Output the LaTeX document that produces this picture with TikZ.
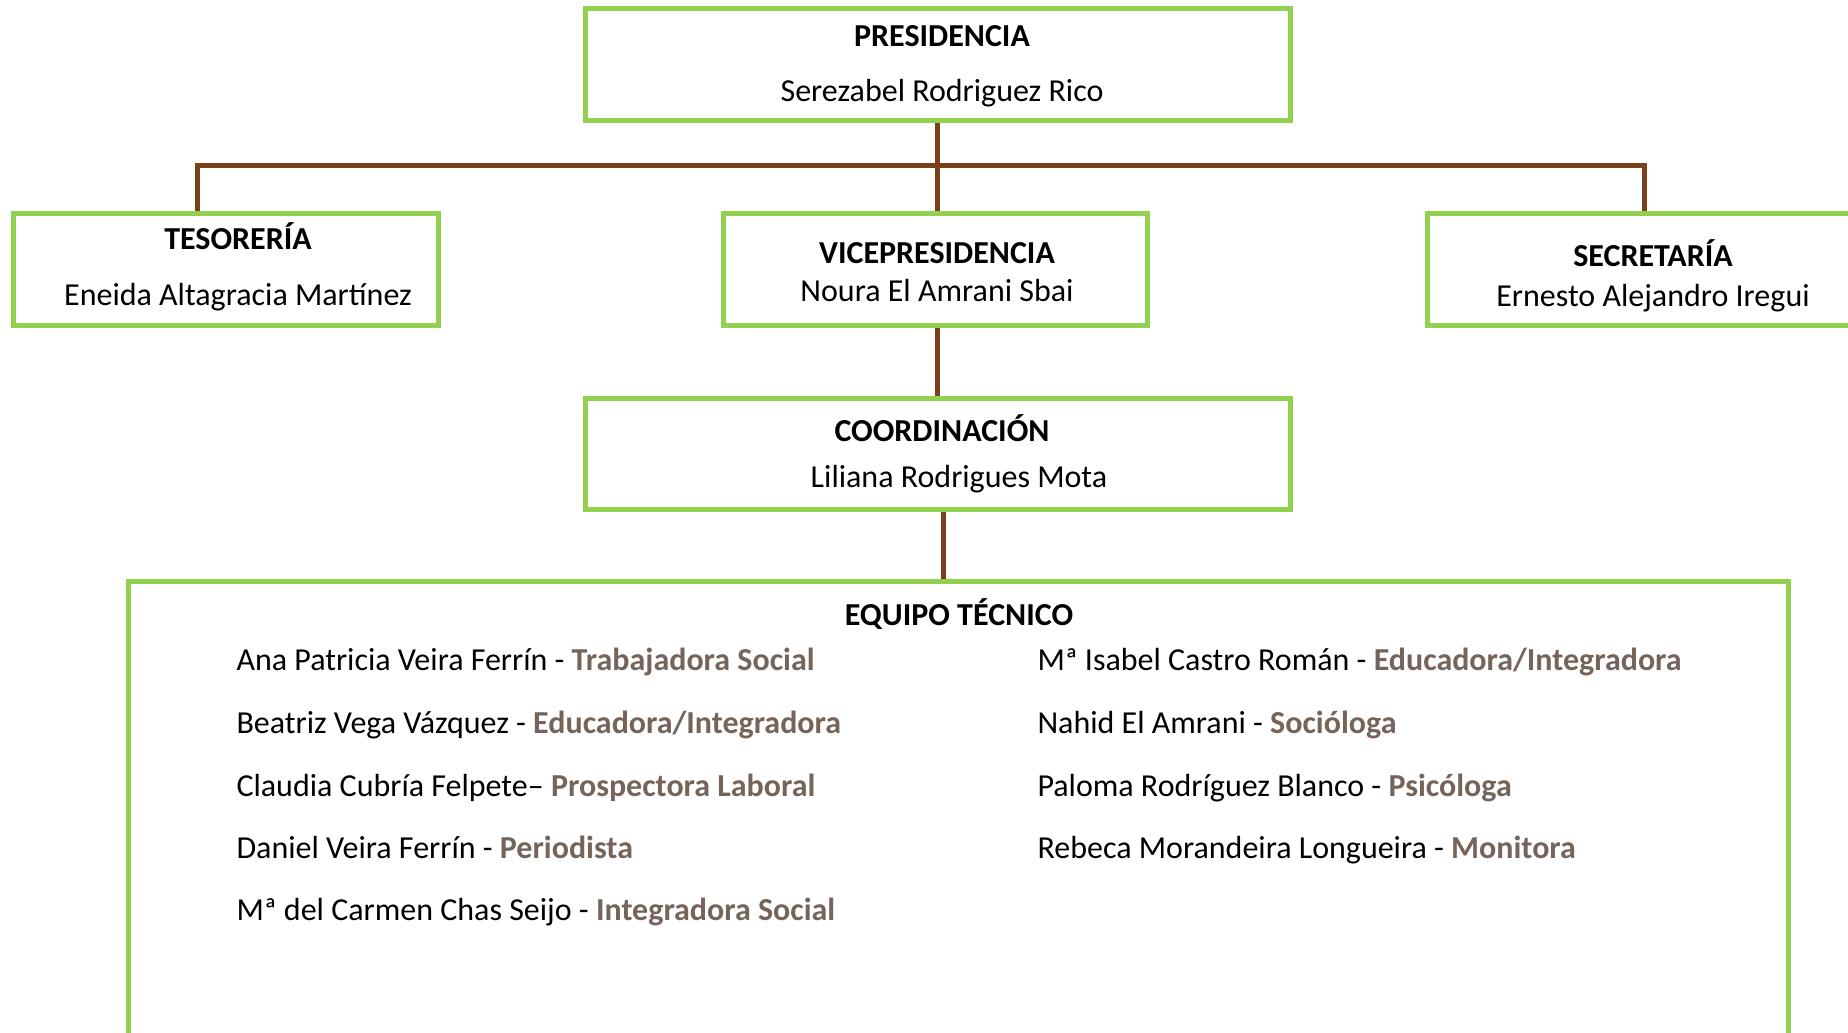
\documentclass[tikz,border=0pt]{standalone}
\usepackage{fontspec}
\setmainfont{Carlito}
\definecolor{verde}{RGB}{146,208,80}
\definecolor{marron}{RGB}{122,64,26}
\definecolor{rolgris}{RGB}{117,100,90}
\newcommand\puesto[1]{\textcolor{rolgris}{\textbf{#1}}}
\begin{document}
\begin{tikzpicture}[x=0.4pt,y=-0.4pt,
 caja/.style 2 args={draw=verde,line width=2pt,inner sep=0pt,minimum width=#1,minimum height=#2},
 linea/.style={draw=marron,line width=2pt},
 titulo/.style={anchor=base,inner sep=0pt,font=\fontsize{12.8pt}{15pt}\selectfont\bfseries},
 nombre/.style={anchor=base,inner sep=0pt,font=\fontsize{12.8pt}{15pt}\selectfont},
 miembro/.style={anchor=base west,inner sep=0pt,font=\fontsize{12.8pt}{15pt}\selectfont}]
\useasboundingbox (0,0) rectangle (1848,1033);
\clip (0,0) rectangle (1848,1033);
% cajas
\node[caja={282pt}{44.8pt}] (pres) at (938,64.5) {};
\node[caja={170pt}{44.8pt}] (tes) at (226,269.5) {};
\node[caja={169.6pt}{44.8pt}] (vice) at (935.5,269.5) {};
\node[caja={179.6pt}{44.8pt}] (sec) at (1652,269.5) {};
\node[caja={282pt}{44.4pt}] (coord) at (938,454) {};
\node[caja={664pt}{206.4pt}] (equipo) at (958.5,839.5) {};
% lineas
\coordinate (p1) at (937.5,165);
\coordinate (t1) at (197,165);
\coordinate (s1) at (1644.5,165);
\coordinate (e1) at (943,545);
\draw[linea] (pres.south -| p1) -- (vice.north -| p1);
\draw[linea] (t1 |- tes.north) -- (t1) -- (s1) -- (s1 |- sec.north);
\draw[linea] (vice.south -| p1) -- (coord.north -| p1);
\draw[linea] (coord.south -| e1) -- (equipo.north -| e1);
% textos
\node[titulo] (presT) at (942,46.7) {PRESIDENCIA};
\node[nombre] (presN) at (942,101.7) {Serezabel Rodriguez Rico};
\node[titulo] (tesT) at (238,249) {TESORERÍA};
\node[nombre] (tesN) at (238,305) {Eneida Altagracia Martínez};
\node[titulo] (viceT) at (937,263) {VICEPRESIDENCIA};
\node[nombre] (viceN) at (937,301.7) {Noura El Amrani Sbai};
\node[titulo] (secT) at (1653,266.7) {SECRETARÍA};
\node[nombre] (secN) at (1653,306) {Ernesto Alejandro Iregui};
\node[titulo] (coordT) at (942,441) {COORDINACIÓN};
\node[nombre] (coordN) at (959,487.5) {Liliana Rodrigues Mota};
\node[titulo] (eqT) at (959,625) {EQUIPO TÉCNICO};
% equipo tecnico
\node[miembro] (m1) at (236,670) {Ana Patricia Veira Ferrín - \puesto{Trabajadora Social}};
\node[miembro] (m2) at (236,733) {Beatriz Vega Vázquez - \puesto{Educadora/Integradora}};
\node[miembro] (m3) at (236,796) {Claudia Cubría Felpete– \puesto{Prospectora Laboral}};
\node[miembro] (m4) at (236,858) {Daniel Veira Ferrín - \puesto{Periodista}};
\node[miembro] (m5) at (236,920) {Mª del Carmen Chas Seijo - \puesto{Integradora Social}};
\node[miembro] (m6) at (1037,670) {Mª Isabel Castro Román - \puesto{Educadora/Integradora}};
\node[miembro] (m7) at (1037,733) {Nahid El Amrani - \puesto{Socióloga}};
\node[miembro] (m8) at (1037,796) {Paloma Rodríguez Blanco - \puesto{Psicóloga}};
\node[miembro] (m9) at (1037,858) {Rebeca Morandeira Longueira - \puesto{Monitora}};
\end{tikzpicture}
\end{document}
